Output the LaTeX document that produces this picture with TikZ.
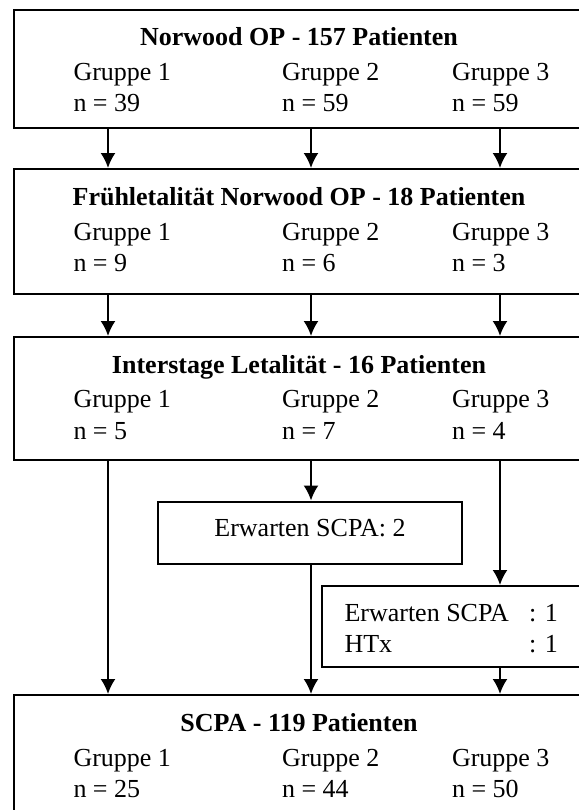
\documentclass[tikz,border=0pt]{standalone}
\usepackage{fontspec}
\setmainfont{Liberation Serif}
\usetikzlibrary{arrows.meta}
\tikzset{
  box/.style={draw,line width=1pt,inner sep=0pt},
  txt/.style={anchor=base west,inner sep=0pt,font=\fontsize{13}{16}\selectfont},
  head/.style={anchor=base,inner sep=0pt,font=\fontsize{13}{16}\selectfont\bfseries},
}
\begin{document}
\begin{tikzpicture}[x=0.5pt,y=-0.5pt,>={Latex[length=7.5pt,width=7.5pt]},line width=1pt]
\useasboundingbox (0,0) rectangle (579,810);
\clip (0,0) rectangle (579,810);
% Spalten der Pfeile
\coordinate (c1) at (108,0);
\coordinate (c2) at (311,0);
\coordinate (c3) at (500,0);
% Norwood OP
\node[box,minimum width=285pt,minimum height=59pt] (nw) at (299,68.5) {};
\node[head] (nw-t) at (299,45.5) {Norwood OP - 157 Patienten};
\foreach \x/\g/\n in {72.5/1/39,281/2/59,451/3/59}{
  \node[txt] (nw-g\g) at (\x,80) {Gruppe \g};
  \node[txt] (nw-n\g) at (\x,111.5) {n = \n};
}
% Fruehletalitaet
\node[box,minimum width=285pt,minimum height=62.5pt] (fl) at (299,231.5) {};
\node[head] (fl-t) at (299,205) {Frühletalität Norwood OP - 18 Patienten};
\foreach \x/\g/\n in {72.5/1/9,281/2/6,451/3/3}{
  \node[txt] (fl-g\g) at (\x,240) {Gruppe \g};
  \node[txt] (fl-n\g) at (\x,271) {n = \n};
}
% Interstage
\node[box,minimum width=285pt,minimum height=61.5pt] (is) at (299,398.5) {};
\node[head] (is-t) at (299,373.3) {Interstage Letalität - 16 Patienten};
\foreach \x/\g/\n in {72.5/1/5,281/2/7,451/3/4}{
  \node[txt] (is-g\g) at (\x,407.5) {Gruppe \g};
  \node[txt] (is-n\g) at (\x,439) {n = \n};
}
% Zwischenboxen
\node[box,minimum width=152pt,minimum height=31pt] (e2) at (310,532.5) {};
\node[head,font=\fontsize{13}{16}\selectfont] (e2-t) at (310,536) {Erwarten SCPA: 2};
\node[box,minimum width=139pt,minimum height=40.5pt] (e3) at (461,626.5) {};
\node[txt] (e3-a) at (343.5,621) {Erwarten SCPA};
\node[txt] (e3-b) at (528,621) {: 1};
\node[txt] (e3-c) at (343.5,652) {HTx};
\node[txt] (e3-d) at (528,652) {: 1};
% SCPA
\node[box,minimum width=285pt,minimum height=67.5pt] (sc) at (299,762.5) {};
\node[head] (sc-t) at (299,731.5) {SCPA - 119 Patienten};
\foreach \x/\g/\n in {72.5/1/25,281/2/44,451/3/50}{
  \node[txt] (sc-g\g) at (\x,766) {Gruppe \g};
  \node[txt] (sc-n\g) at (\x,797) {n = \n};
}
% Pfeile
\foreach \c in {c1,c2,c3}{
  \draw[->] (nw.south -| \c) -- (fl.north -| \c);
  \draw[->] (fl.south -| \c) -- (is.north -| \c);
}
\draw[->] (is.south -| c1) -- (sc.north -| c1);
\draw[->] (is.south -| c2) -- (e2.north -| c2);
\draw[->] (e2.south -| c2) -- (sc.north -| c2);
\draw[->] (is.south -| c3) -- (e3.north -| c3);
\draw[->] (e3.south -| c3) -- (sc.north -| c3);
\end{tikzpicture}
\end{document}
